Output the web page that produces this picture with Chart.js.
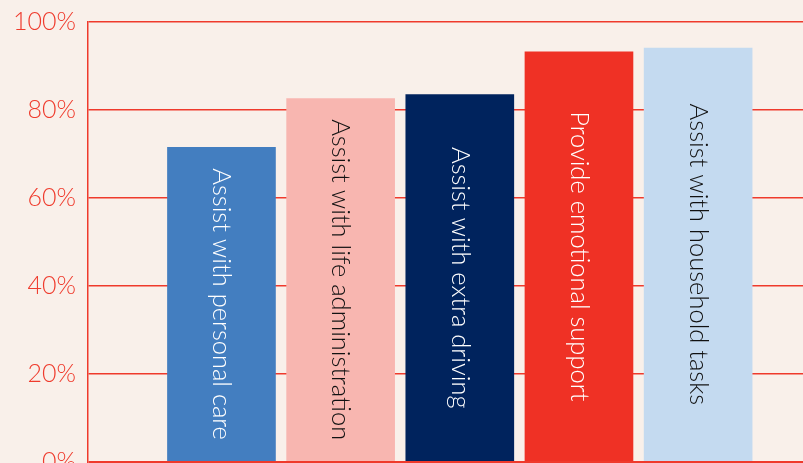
<!DOCTYPE html>
<html>
<head>
<meta charset="utf-8">
<script src="https://cdn.jsdelivr.net/npm/chart.js"></script>
<style>
  html, body { margin: 0; padding: 0; background: #f9f0ea; }
  #wrap { width: 803px; height: 463px; overflow: hidden; position: relative; }
  #box { position: absolute; left: 0; top: -5px; width: 803px; height: 495px; }
</style>
</head>
<body>
<div id="wrap"><div id="box"><canvas id="chart"></canvas></div></div>
<script>
const categories = [
  "Assist with personal care",
  "Assist with life administration",
  "Assist with extra driving",
  "Provide emotional support",
  "Assist with household tasks"
];
const values = [71.5, 82.6, 83.5, 93.2, 94.1];
const barColors = ["#437ec0", "#f8b6b0", "#00235d", "#ef3125", "#c4daf0"];
const labelColors = ["#ffffff", "#111111", "#ffffff", "#ffffff", "#111111"];
const yTicks = [0, 20, 40, 60, 80, 100];

const RED = "#ef3a2c";
const FONT = "Lato, 'Open Sans', sans-serif";

// text written down the middle of each bar
const barText = {
  id: "barText",
  afterDatasetsDraw(chart) {
    const ctx = chart.ctx;
    const meta = chart.getDatasetMeta(0);
    ctx.save();
    ctx.font = "300 25.5px " + FONT;
    ctx.textAlign = "center";
    ctx.textBaseline = "middle";
    meta.data.forEach((bar, i) => {
      ctx.save();
      ctx.translate(bar.x, (bar.y + bar.base) / 2);
      ctx.rotate(Math.PI / 2);
      ctx.fillStyle = labelColors[i];
      ctx.fillText(categories[i], 0, 0);
      ctx.restore();
    });
    ctx.restore();
  }
};

new Chart(document.getElementById("chart"), {
  type: "bar",
  data: {
    datasets: [{
      data: categories.map((c, i) => ({ x: i + 1, y: values[i] })),
      backgroundColor: barColors,
      borderWidth: 0,
      barThickness: 108
    }]
  },
  options: {
    responsive: true,
    maintainAspectRatio: false,
    animation: false,
    layout: { padding: { top: 15, bottom: 28, left: 0, right: 0 } },
    plugins: { legend: { display: false }, tooltip: { enabled: false } },
    scales: {
      x: {
        type: "linear",
        min: -0.12,
        max: 5.88,
        offset: false,
        grid: { offset: false },
        display: false
      },
      y: {
        min: 0,
        max: 100,
        afterFit: s => { s.width = 88; },
        afterBuildTicks: s => { s.ticks = yTicks.map(v => ({ value: v })); },
        ticks: {
          padding: 12,
          color: "#ef3b2d",
          font: { family: FONT, size: 25, weight: 300 },
          callback: v => v + "%"
        },
        grid: {
          color: RED,
          lineWidth: c => (c.tick && c.tick.value === 0 ? 2.5 : 1.5),
          drawTicks: false
        },
        border: { display: true, color: RED, width: 1.5 }
      }
    }
  },
  plugins: [barText]
});
</script>
</body>
</html>
